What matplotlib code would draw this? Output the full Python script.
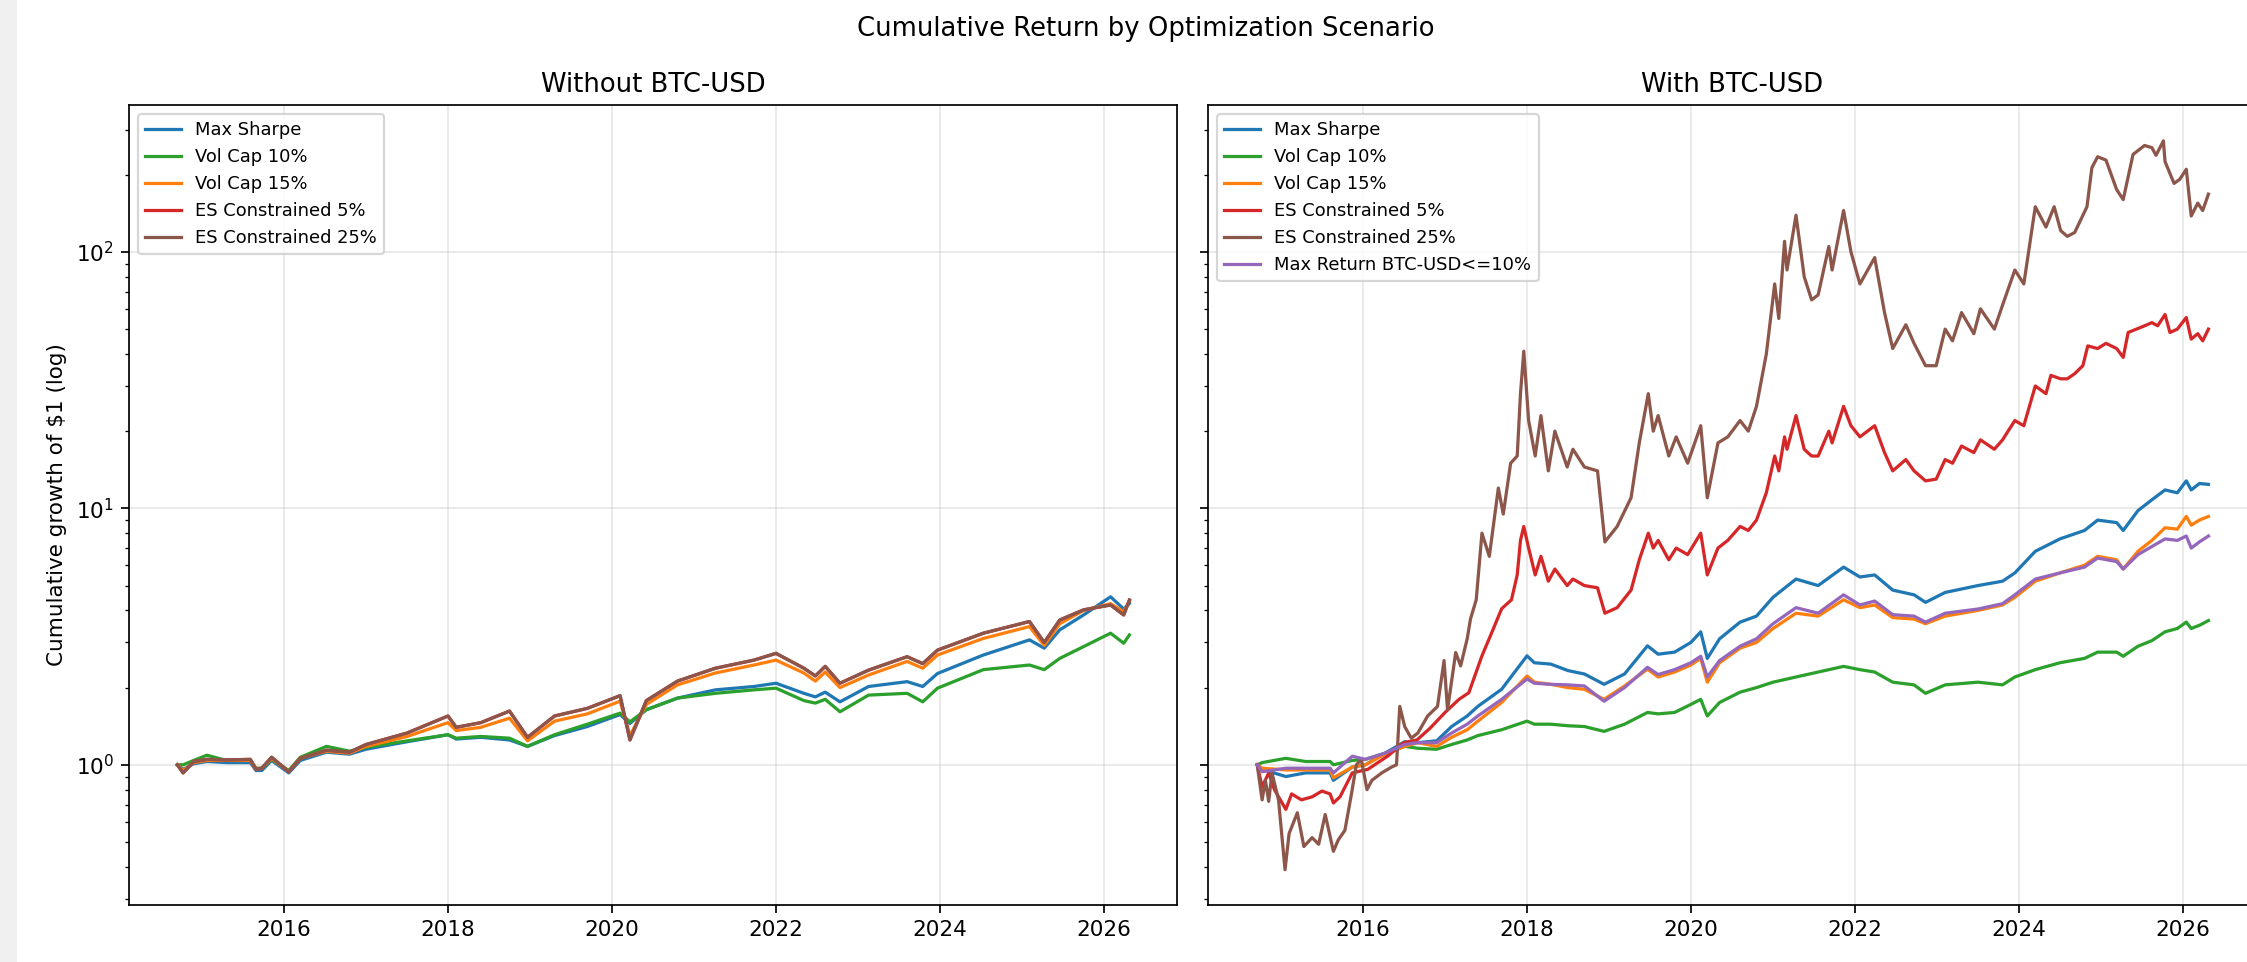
import numpy as np
import pandas as pd
import matplotlib
matplotlib.use("Agg")
import matplotlib.pyplot as plt
from matplotlib.patches import Rectangle

# ---------------- data (decimal years / growth of $1) ----------------
SCENARIOS_LEFT = ["Max Sharpe", "Vol Cap 10%", "Vol Cap 15%", "ES Constrained 5%", "ES Constrained 25%"]
SCENARIOS_RIGHT = SCENARIOS_LEFT + ["Max Return BTC-USD<=10%"]

L_X = [2014.70, 2014.77, 2014.90, 2015.06, 2015.30, 2015.59, 2015.66, 2015.73, 2015.85, 2016.06,
       2016.20, 2016.52, 2016.80, 2017.00, 2017.50, 2018.00, 2018.10, 2018.40, 2018.75, 2018.97,
       2019.30, 2019.70, 2020.10, 2020.22, 2020.42, 2020.80, 2021.26, 2021.73, 2022.00, 2022.34,
       2022.48, 2022.60, 2022.78, 2023.13, 2023.60, 2023.79, 2023.97, 2024.53, 2025.09, 2025.27,
       2025.46, 2025.75, 2026.08, 2026.24, 2026.31]
L_MAX_SHARPE = [1.00, 0.96, 1.01, 1.03, 1.02, 1.02, 0.95, 0.95, 1.04, 0.93,
                1.04, 1.12, 1.10, 1.15, 1.23, 1.31, 1.26, 1.28, 1.25, 1.18,
                1.30, 1.41, 1.57, 1.45, 1.64, 1.82, 1.96, 2.02, 2.08, 1.90,
                1.84, 1.92, 1.76, 2.02, 2.11, 2.02, 2.27, 2.68, 3.07, 2.85,
                3.36, 3.84, 4.52, 4.05, 4.26]
L_VOL10 = [1.00, 1.00, 1.04, 1.09, 1.04, 1.04, 0.97, 0.97, 1.05, 0.95,
           1.07, 1.18, 1.13, 1.17, 1.24, 1.31, 1.27, 1.29, 1.27, 1.18,
           1.31, 1.44, 1.59, 1.47, 1.64, 1.82, 1.90, 1.96, 1.99, 1.78,
           1.74, 1.80, 1.61, 1.87, 1.90, 1.76, 1.99, 2.35, 2.45, 2.35,
           2.60, 2.89, 3.26, 2.98, 3.21]
L_VOL15 = [1.00, 0.95, 1.02, 1.04, 1.04, 1.04, 0.96, 0.97, 1.06, 0.94,
           1.06, 1.13, 1.11, 1.18, 1.29, 1.46, 1.36, 1.40, 1.52, 1.24,
           1.48, 1.58, 1.77, 1.30, 1.72, 2.05, 2.28, 2.45, 2.56, 2.28,
           2.12, 2.30, 2.00, 2.24, 2.53, 2.38, 2.68, 3.11, 3.46, 2.92,
           3.55, 4.00, 4.25, 3.95, 4.35]
L_ES5 = [1.00, 0.93, 1.03, 1.05, 1.045, 1.05, 0.96, 0.97, 1.07, 0.94,
         1.06, 1.14, 1.12, 1.20, 1.33, 1.55, 1.40, 1.46, 1.62, 1.28,
         1.55, 1.66, 1.86, 1.25, 1.78, 2.12, 2.38, 2.56, 2.72, 2.38,
         2.22, 2.42, 2.08, 2.34, 2.64, 2.48, 2.80, 3.26, 3.62, 3.00,
         3.67, 4.02, 4.20, 3.84, 4.39]
L_ES25 = [1.00, 0.93, 1.03, 1.05, 1.045, 1.05, 0.96, 0.97, 1.07, 0.94,
          1.06, 1.14, 1.12, 1.20, 1.33, 1.55, 1.40, 1.46, 1.62, 1.28,
          1.55, 1.66, 1.86, 1.25, 1.78, 2.12, 2.38, 2.56, 2.72, 2.38,
          2.22, 2.42, 2.08, 2.34, 2.64, 2.48, 2.80, 3.26, 3.62, 3.00,
          3.67, 4.02, 4.20, 3.84, 4.39]

# Right panel: smooth-ish scenarios share one date grid
R_X = [2014.71, 2014.77, 2015.06, 2015.30, 2015.60, 2015.64, 2015.87, 2016.03, 2016.27, 2016.51,
       2016.67, 2016.90, 2017.08, 2017.27, 2017.40, 2017.69, 2018.00, 2018.09, 2018.29, 2018.50,
       2018.70, 2018.94, 2019.19, 2019.47, 2019.60, 2019.80, 2020.00, 2020.12, 2020.20, 2020.35,
       2020.60, 2020.80, 2021.00, 2021.28, 2021.55, 2021.86, 2022.06, 2022.24, 2022.46, 2022.72,
       2022.86, 2023.10, 2023.50, 2023.80, 2023.95, 2024.20, 2024.50, 2024.80, 2024.96, 2025.19,
       2025.27, 2025.45, 2025.62, 2025.78, 2025.93, 2026.04, 2026.10, 2026.20, 2026.31]
R_MAX_SHARPE = [1.00, 0.96, 0.90, 0.93, 0.93, 0.87, 0.98, 1.00, 1.11, 1.23,
                1.22, 1.24, 1.41, 1.55, 1.69, 1.97, 2.66, 2.50, 2.47, 2.33,
                2.26, 2.06, 2.26, 2.91, 2.70, 2.75, 3.00, 3.30, 2.60, 3.10,
                3.60, 3.80, 4.50, 5.30, 5.00, 5.90, 5.40, 5.50, 4.80, 4.60,
                4.30, 4.70, 5.00, 5.20, 5.60, 6.80, 7.60, 8.20, 9.00, 8.80,
                8.20, 9.80, 10.8, 11.8, 11.5, 12.8, 11.8, 12.5, 12.4]
R_VOL10 = [1.00, 1.02, 1.06, 1.03, 1.03, 1.00, 1.04, 1.05, 1.11, 1.18,
           1.16, 1.15, 1.20, 1.25, 1.30, 1.37, 1.48, 1.44, 1.44, 1.42,
           1.41, 1.35, 1.44, 1.60, 1.58, 1.60, 1.72, 1.80, 1.55, 1.75,
           1.92, 2.00, 2.10, 2.20, 2.30, 2.42, 2.35, 2.30, 2.10, 2.05,
           1.90, 2.05, 2.10, 2.05, 2.20, 2.35, 2.50, 2.60, 2.75, 2.75,
           2.65, 2.90, 3.05, 3.30, 3.40, 3.60, 3.40, 3.50, 3.65]
R_VOL15 = [1.00, 0.97, 0.955, 0.955, 0.955, 0.89, 0.98, 1.00, 1.10, 1.18,
           1.22, 1.18, 1.28, 1.37, 1.48, 1.75, 2.22, 2.10, 2.06, 2.00,
           1.97, 1.80, 2.03, 2.36, 2.20, 2.30, 2.45, 2.60, 2.10, 2.50,
           2.85, 3.00, 3.40, 3.90, 3.80, 4.40, 4.10, 4.20, 3.75, 3.70,
           3.55, 3.80, 4.00, 4.20, 4.50, 5.20, 5.60, 6.00, 6.50, 6.30,
           5.80, 6.80, 7.50, 8.40, 8.30, 9.30, 8.60, 9.00, 9.30]
R_MAX_RET_BTC10 = [1.00, 0.94, 0.97, 0.97, 0.97, 0.93, 1.08, 1.05, 1.11, 1.20,
                   1.22, 1.22, 1.33, 1.44, 1.55, 1.80, 2.16, 2.08, 2.06, 2.05,
                   2.03, 1.77, 2.00, 2.40, 2.25, 2.35, 2.50, 2.65, 2.20, 2.55,
                   2.90, 3.10, 3.55, 4.10, 3.90, 4.60, 4.20, 4.35, 3.85, 3.80,
                   3.60, 3.90, 4.05, 4.25, 4.60, 5.30, 5.60, 5.90, 6.40, 6.20,
                   5.80, 6.60, 7.10, 7.60, 7.50, 7.80, 7.00, 7.40, 7.80]

# BTC-heavy scenarios need their own, denser dates
R_ES5_X = [2014.71, 2014.77, 2014.85, 2014.92, 2015.06, 2015.13, 2015.25, 2015.38, 2015.50, 2015.60,
           2015.64, 2015.72, 2015.87, 2016.06, 2016.30, 2016.50, 2016.66, 2016.82, 2017.00, 2017.17,
           2017.29, 2017.45, 2017.57, 2017.69, 2017.81, 2017.88, 2017.92, 2017.96, 2018.02, 2018.10,
           2018.17, 2018.26, 2018.34, 2018.49, 2018.56, 2018.70, 2018.86, 2018.95, 2019.10, 2019.27,
           2019.37, 2019.48, 2019.54, 2019.60, 2019.73, 2019.82, 2019.96, 2020.12, 2020.20, 2020.33,
           2020.45, 2020.60, 2020.70, 2020.80, 2020.92, 2021.02, 2021.07, 2021.14, 2021.17, 2021.28,
           2021.38, 2021.47, 2021.55, 2021.68, 2021.72, 2021.86, 2021.95, 2022.06, 2022.24, 2022.36,
           2022.46, 2022.62, 2022.72, 2022.86, 2022.99, 2023.10, 2023.19, 2023.30, 2023.45, 2023.53,
           2023.70, 2023.80, 2023.95, 2024.06, 2024.20, 2024.33, 2024.39, 2024.51, 2024.59, 2024.68,
           2024.78, 2024.84, 2024.96, 2025.06, 2025.19, 2025.27, 2025.33, 2025.53, 2025.62, 2025.69,
           2025.78, 2025.84, 2025.93, 2026.04, 2026.10, 2026.18, 2026.24, 2026.31]
R_ES5 = [1.00, 0.82, 0.93, 0.80, 0.67, 0.77, 0.73, 0.75, 0.79, 0.77,
         0.71, 0.75, 0.93, 0.96, 1.08, 1.22, 1.25, 1.39, 1.60, 1.80,
         1.91, 2.66, 3.28, 4.06, 4.40, 5.50, 7.50, 8.50, 7.00, 5.50,
         6.50, 5.20, 5.80, 5.00, 5.30, 5.00, 4.90, 3.90, 4.10, 4.80,
         6.30, 8.00, 7.00, 7.50, 6.30, 7.00, 6.60, 8.00, 5.50, 7.00,
         7.50, 8.50, 8.20, 9.00, 11.5, 16.0, 14.0, 19.0, 17.0, 23.0,
         17.0, 16.0, 16.0, 20.0, 18.0, 25.0, 21.0, 19.0, 21.0, 16.5,
         14.0, 15.5, 14.0, 12.8, 13.0, 15.5, 15.0, 17.5, 16.5, 18.5,
         17.0, 18.5, 22.0, 21.0, 30.0, 28.0, 33.0, 32.0, 32.0, 33.5,
         36.0, 43.0, 42.0, 44.0, 42.0, 38.8, 48.5, 51.5, 53.0, 51.5,
         57.0, 48.5, 50.0, 55.5, 45.7, 48.0, 45.0, 50.0]

R_ES25_X = [2014.71, 2014.77, 2014.81, 2014.85, 2014.89, 2014.97, 2015.05, 2015.10, 2015.20, 2015.28,
            2015.38, 2015.46, 2015.54, 2015.64, 2015.70, 2015.78, 2015.86, 2015.92, 2015.98, 2016.05,
            2016.11, 2016.23, 2016.35, 2016.41, 2016.45, 2016.51, 2016.59, 2016.67, 2016.79, 2016.91,
            2016.99, 2017.03, 2017.13, 2017.19, 2017.27, 2017.31, 2017.38, 2017.45, 2017.54, 2017.65,
            2017.71, 2017.80, 2017.88, 2017.92, 2017.96, 2018.02, 2018.10, 2018.17, 2018.26, 2018.34,
            2018.49, 2018.56, 2018.70, 2018.86, 2018.95, 2019.10, 2019.27, 2019.37, 2019.48, 2019.54,
            2019.60, 2019.73, 2019.82, 2019.96, 2020.12, 2020.20, 2020.33, 2020.45, 2020.60, 2020.70,
            2020.80, 2020.92, 2021.02, 2021.07, 2021.14, 2021.17, 2021.28, 2021.38, 2021.47, 2021.55,
            2021.68, 2021.72, 2021.86, 2021.95, 2022.06, 2022.24, 2022.36, 2022.46, 2022.62, 2022.72,
            2022.86, 2022.99, 2023.10, 2023.19, 2023.30, 2023.45, 2023.53, 2023.70, 2023.80, 2023.95,
            2024.06, 2024.20, 2024.33, 2024.43, 2024.51, 2024.59, 2024.68, 2024.83, 2024.89, 2024.96,
            2025.06, 2025.19, 2025.27, 2025.39, 2025.53, 2025.62, 2025.67, 2025.76, 2025.78, 2025.89,
            2025.96, 2026.04, 2026.10, 2026.18, 2026.24, 2026.31]
R_ES25 = [1.00, 0.73, 0.87, 0.72, 0.93, 0.73, 0.39, 0.54, 0.65, 0.48,
          0.52, 0.49, 0.64, 0.46, 0.51, 0.555, 0.77, 1.00, 1.05, 0.80,
          0.87, 0.93, 0.98, 1.00, 1.69, 1.41, 1.27, 1.33, 1.55, 1.69,
          2.55, 1.64, 2.74, 2.43, 3.10, 3.70, 4.40, 8.0, 6.5, 12.0,
          9.5, 15.0, 16.0, 28.0, 41.0, 22.0, 16.0, 23.0, 14.0, 20.0,
          14.5, 17.0, 14.5, 14.0, 7.4, 8.5, 11.0, 18.0, 28.0, 20.0,
          23.0, 16.0, 19.0, 15.0, 21.0, 11.0, 18.0, 19.0, 22.0, 20.0,
          25.0, 40.0, 75.0, 55.0, 110.0, 85.0, 139.0, 80.0, 65.0, 68.0,
          105.0, 85.0, 145.0, 100.0, 75.0, 95.0, 58.0, 42.0, 52.0, 44.0,
          36.0, 36.0, 50.0, 45.0, 58.0, 48.0, 60.0, 50.0, 62.0, 85.0,
          75.0, 150.0, 125.0, 150.0, 121.0, 115.0, 119.0, 150.0, 213.0, 235.0,
          228.0, 175.0, 160.0, 240.0, 260.0, 255.0, 238.0, 271.0, 225.0, 185.0,
          192.0, 210.0, 138.0, 155.0, 145.0, 168.0]

COLORS = {"Max Sharpe": "#1f77b4", "Vol Cap 10%": "#2ca02c", "Vol Cap 15%": "#ff7f0e",
          "ES Constrained 5%": "#d62728", "ES Constrained 25%": "#8c564b",
          "Max Return BTC-USD<=10%": "#9467bd"}


def to_dates(xs):
    out = []
    for v in xs:
        yr = int(np.floor(v))
        out.append(pd.Timestamp(year=yr, month=1, day=1) + pd.Timedelta(days=(v - yr) * 365.25))
    return out


left_series = [
    ("Max Sharpe", L_X, L_MAX_SHARPE),
    ("Vol Cap 10%", L_X, L_VOL10),
    ("Vol Cap 15%", L_X, L_VOL15),
    ("ES Constrained 5%", L_X, L_ES5),
    ("ES Constrained 25%", L_X, L_ES25),
]
right_series = [
    ("Max Sharpe", R_X, R_MAX_SHARPE),
    ("Vol Cap 10%", R_X, R_VOL10),
    ("Vol Cap 15%", R_X, R_VOL15),
    ("ES Constrained 5%", R_ES5_X, R_ES5),
    ("ES Constrained 25%", R_ES25_X, R_ES25),
    ("Max Return BTC-USD<=10%", R_X, R_MAX_RET_BTC10),
]

# ---------------- figure ----------------
DPI = 155
W, H = 2247, 962
fig = plt.figure(figsize=(W / DPI, H / DPI), dpi=DPI)
fig.patches.append(Rectangle((0, 0), 17 / W, 1, transform=fig.transFigure,
                             facecolor="#f0f0f0", edgecolor="none", zorder=-10))

ax_w = 1048 / W
ax_b = (H - 905) / H
ax_h = 800 / H
ax1 = fig.add_axes([129 / W, ax_b, ax_w, ax_h])
ax2 = fig.add_axes([1208 / W, ax_b, ax_w, ax_h], sharey=ax1, sharex=ax1)

for ax, series, title in [(ax1, left_series, "Without BTC-USD"),
                          (ax2, right_series, "With BTC-USD")]:
    for name, xs, ys in series:
        ax.plot(to_dates(xs), ys, color=COLORS[name], lw=1.5, label=name)
    ax.set_yscale("log")
    ax.set_title(title, fontsize=12)
    ax.grid(True, alpha=0.3)
    ax.legend(loc="upper left", fontsize="small")

ax1.set_ylim(0.284, 374)
ax1.set_xlim(to_dates([2014.11])[0], to_dates([2026.89])[0])
ax1.set_ylabel("Cumulative growth of $1 (log)")
ax2.tick_params(labelleft=False)

fig.text(1146 / W, 1 - 29 / H, "Cumulative Return by Optimization Scenario",
         ha="center", va="center", fontsize=12)

fig.savefig("out.png", dpi=DPI)
